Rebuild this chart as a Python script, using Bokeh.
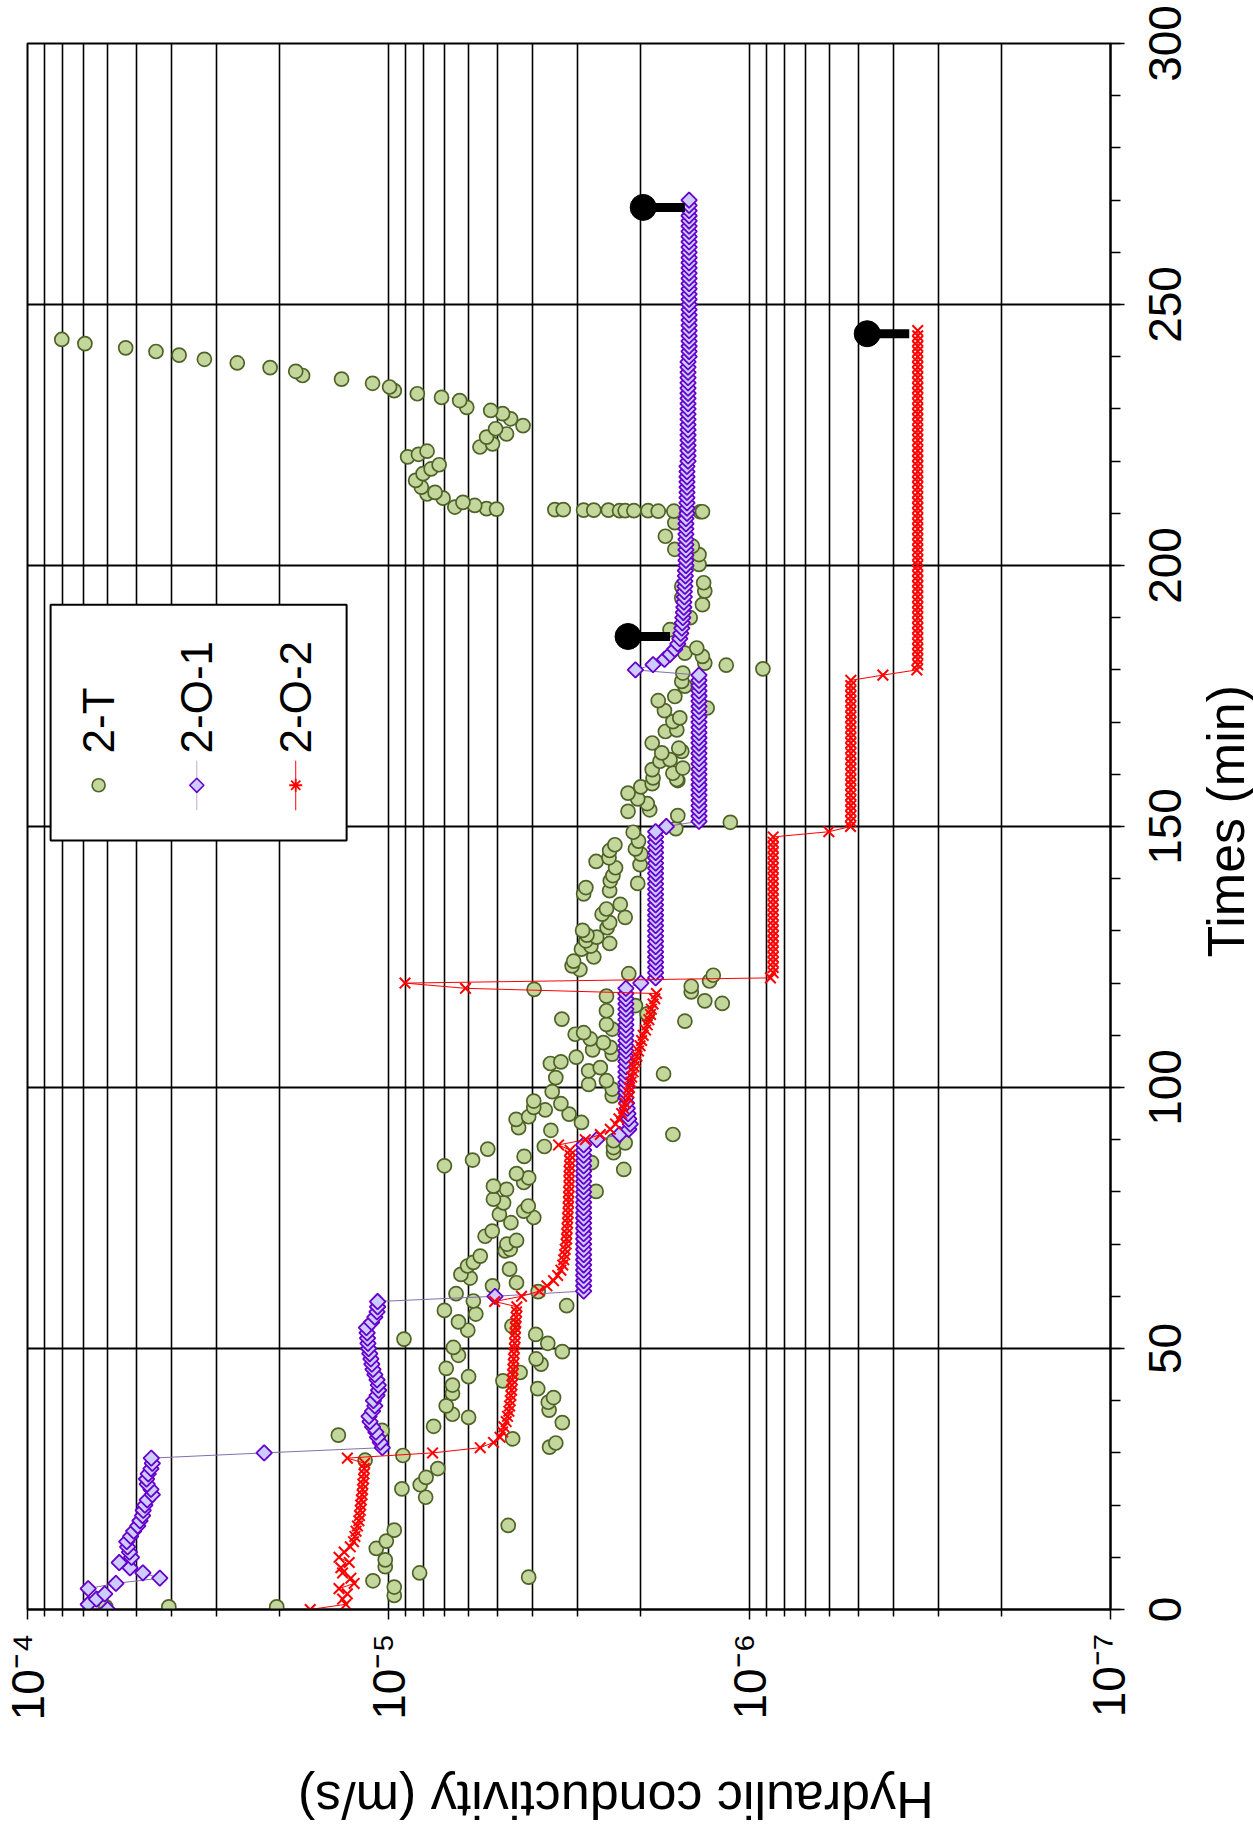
import math
from bokeh.plotting import figure
from bokeh.layouts import row, column
from bokeh.models import ColumnDataSource, FixedTicker, Range1d, CustomJSTickFormatter
from bokeh.embed import file_html
from bokeh.resources import INLINE
from bokeh.core.properties import value

FONT = "Liberation Sans"

# ---------------- data ----------------
# 2-T : time (min) and hydraulic conductivity (x 1e-6 m/s)
t_2T = [0.5, 0.5, 0.5, 2.7, 4.3, 5.5, 6.2, 7.0, 8.2, 9.5, 11.7, 13.1, 15.2, 16.1, 21.5, 23.1, 23.9, 25.3, 27.0, 28.6,
        29.5, 31.1, 31.9, 32.7, 33.4, 34.3, 35.1, 35.8, 36.8, 37.4, 38.2, 39.0, 39.7, 40.6, 41.4, 42.3, 43.0, 43.8, 44.6, 45.4,
        46.2, 47.0, 48.0, 48.7, 49.4, 50.2, 51.0, 51.8, 52.7, 53.5, 54.3, 55.1, 56.6, 57.3, 58.2, 59.1, 60.5, 60.9, 62.0, 62.6,
        63.5, 64.2, 65.2, 65.8, 66.5, 67.7, 68.7, 69.0, 70.0, 70.7, 71.5, 72.5, 74.1, 75.1, 75.7, 76.3, 77.3, 77.9, 78.6, 80.1,
        80.5, 81.1, 81.8, 82.7, 83.5, 84.3, 85.0, 85.6, 86.1, 86.8, 87.5, 88.2, 88.5, 88.7, 89.4, 89.8, 91.0, 91.8, 92.3, 93.3,
        93.9, 94.4, 94.9, 95.7, 96.2, 96.9, 97.4, 98.4, 99.2, 99.7, 100.6, 101.3, 101.9, 102.6, 103.2, 103.8, 104.6, 104.9, 105.8, 106.4,
        107.2, 107.7, 108.6, 109.3, 110.2, 110.5, 111.2, 112.1, 112.7, 113.1, 114.1, 114.7, 115.7, 116.1, 116.6, 117.5, 118.3, 118.8, 119.4, 120.4,
        121.5, 121.8, 122.6, 123.3, 124.2, 125.0, 126.5, 127.1, 127.6, 128.1, 128.8, 129.2, 130.1, 130.6, 131.6, 132.6, 133.2, 134.2, 135.1, 137.1,
        137.7, 138.3, 139.1, 139.6, 140.6, 142.1, 142.7, 143.3, 144.0, 144.7, 145.4, 145.7, 146.5, 147.2, 148.9, 149.6, 150.8, 152.1, 152.9, 153.2,
        154.4, 155.3, 156.4, 157.6, 158.2, 158.8, 159.0, 159.3, 160.2, 160.9, 161.2, 162.5, 162.8, 164.1, 164.4, 165.0, 166.0, 168.2, 168.5, 170.1,
        170.8, 172.2, 172.7, 174.1, 174.9, 176.9, 177.8, 179.4, 180.2, 180.9, 181.3, 182.6, 183.2, 184.2, 187.7, 190.0, 192.5, 193.8, 195.1, 196.0,
        196.7, 200.2, 202.1, 203.1, 203.7, 205.6, 208.2, 210.9, 210.8, 210.7, 210.7, 210.6, 210.6, 210.6, 210.5, 210.5, 210.5, 210.5, 210.4, 210.4,
        210.4, 210.3, 210.3, 211.2, 211.5, 212.1, 212.9, 213.7, 214.0, 215.0, 216.3, 217.6, 218.5, 219.3, 220.8, 221.3, 221.9, 222.7, 223.3, 224.6,
        225.2, 226.2, 226.8, 228.1, 229.1, 229.7, 230.3, 231.6, 232.2, 232.9, 233.5, 234.2, 234.9, 235.7, 236.4, 237.2, 237.9, 238.8, 239.5, 240.3,
        241.0, 241.7, 242.5, 243.3]
k_2T = [60.7, 40.6, 20.4, 9.64, 9.64, 11.04, 4.09, 8.20, 10.21, 10.21, 10.81, 10.14, 9.64, 4.66, 7.89, 9.18, 8.17, 7.87, 7.30, 11.61,
        9.12, 3.58, 3.44, 4.53, 13.77, 10.42, 7.50, 3.30, 6.00, 6.65, 3.59, 6.92, 3.61, 3.49, 6.65, 3.86, 6.65, 4.82, 6.00, 4.32,
        6.92, 3.78, 3.90, 6.40, 3.30, 6.61, 3.62, 9.06, 3.91, 6.03, 4.55, 6.40, 5.73, 7.00, 3.21, 5.82, 6.50, 3.85, 5.15, 4.42,
        5.94, 6.30, 4.62, 6.04, 5.82, 5.57, 4.75, 4.60, 4.70, 4.42, 5.40, 5.16, 4.58, 3.96, 4.93, 4.22, 4.10, 4.80, 5.12, 2.66,
        4.71, 5.12, 4.22, 4.09, 4.42, 2.23, 7.00, 2.74, 5.85, 4.21, 2.38, 5.31, 2.38, 3.70, 2.21, 2.38, 1.63, 3.55, 4.36, 2.92,
        4.43, 4.09, 3.16, 3.68, 3.96, 3.33, 3.96, 2.40, 3.52, 2.40, 2.79, 2.49, 3.44, 1.73, 2.79, 2.59, 3.56, 3.33, 3.02, 2.40,
        2.72, 2.43, 2.54, 2.76, 3.04, 2.88, 2.40, 2.49, 1.51, 3.31, 1.92, 2.49, 2.07, 1.19, 1.33, 2.49, 1.45, 3.95, 1.45, 1.29,
        1.26, 2.16, 2.95, 3.10, 3.07, 2.70, 2.92, 2.75, 2.44, 2.84, 2.65, 2.82, 2.90, 2.48, 2.44, 2.21, 2.56, 2.49, 2.28, 2.88,
        2.44, 2.84, 2.04, 2.43, 2.39, 2.35, 2.01, 2.66, 2.45, 2.00, 2.44, 2.07, 2.36, 2.03, 2.10, 1.60, 1.13, 1.58, 2.17, 1.89,
        1.92, 2.04, 2.17, 2.00, 1.86, 1.58, 1.59, 1.85, 1.63, 1.86, 1.53, 1.77, 1.66, 1.75, 1.54, 1.57, 1.86, 1.71, 1.59, 1.63,
        1.56, 1.72, 1.31, 1.79, 1.61, 1.51, 1.54, 1.53, 0.918, 1.16, 1.33, 1.35, 1.51, 1.40, 1.66, 1.46, 1.35, 1.54, 1.33, 1.54,
        1.34, 1.38, 1.38, 1.61, 1.44, 1.71, 1.61, 5.35, 5.02, 3.46, 3.28, 2.88, 2.70, 2.46, 2.29, 2.21, 2.09, 1.91, 1.79, 1.62,
        1.49, 1.37, 1.35, 6.55, 5.77, 6.22, 7.06, 7.82, 7.43, 8.11, 8.41, 8.02, 7.62, 7.24, 8.85, 8.26, 7.82, 5.58, 5.15, 5.35,
        4.71, 5.05, 4.24, 4.59, 4.83, 5.21, 6.07, 6.35, 7.13, 8.32, 9.64, 9.93, 11.07, 13.49, 17.30, 18.07, 21.28, 26.24, 32.36, 38.02,
        44.06, 53.46, 69.34, 80.35]

# 2-O-1 : one reading per minute, K in 1e-6 m/s
t_2O1 = list(range(0, 271))
k_2O1 = [60.0, 67.9, 64.4, 61.1, 67.9, 56.9, 43.0, 47.9, 52.0, 55.7,
         51.5, 52.2, 52.8, 53.1, 51.8, 50.8, 49.5, 48.8, 48.0, 47.8,
         47.3, 46.6, 45.1, 45.5, 46.6, 46.8, 46.3, 45.5, 45.1, 45.4,
         22.1, 10.40, 10.54, 10.72, 10.84, 11.07, 11.25, 11.32, 11.07, 10.91,
         11.01, 10.76, 10.65, 10.67, 10.76, 10.91, 11.04, 11.12, 11.19, 11.27,
         11.35, 11.40, 11.43, 11.46, 11.51, 11.14, 10.91, 10.76, 10.72, 10.72,
         5.07, 2.88, 2.88, 2.88, 2.88, 2.88, 2.88, 2.88, 2.88, 2.88,
         2.88, 2.88, 2.88, 2.88, 2.88, 2.88, 2.88, 2.88, 2.88, 2.88,
         2.88, 2.88, 2.88, 2.88, 2.88, 2.88, 2.88, 2.88, 2.88, 2.88,
         2.65, 2.29, 2.16, 2.14, 2.16, 2.17, 2.18, 2.19, 2.20, 2.20,
         2.20, 2.20, 2.20, 2.20, 2.20, 2.20, 2.20, 2.20, 2.20, 2.20,
         2.20, 2.20, 2.20, 2.20, 2.20, 2.20, 2.20, 2.20, 2.20, 2.20,
         2.00, 1.82, 1.82, 1.82, 1.82, 1.82, 1.82, 1.82, 1.82, 1.82,
         1.82, 1.82, 1.82, 1.82, 1.82, 1.82, 1.82, 1.82, 1.82, 1.82,
         1.82, 1.82, 1.82, 1.82, 1.82, 1.82, 1.82, 1.82, 1.82, 1.82,
         1.70, 1.38, 1.38, 1.38, 1.38, 1.38, 1.38, 1.38, 1.38, 1.38,
         1.38, 1.38, 1.38, 1.38, 1.38, 1.38, 1.38, 1.38, 1.38, 1.38,
         1.38, 1.38, 1.38, 1.38, 1.38, 1.38, 1.38, 1.38, 1.38, 1.38,
         2.07, 1.85, 1.72, 1.66, 1.61, 1.58, 1.56, 1.55, 1.54, 1.535,
         1.53, 1.525, 1.52, 1.52, 1.515, 1.515, 1.51, 1.51, 1.505, 1.505,
         1.50, 1.50, 1.50, 1.50, 1.50, 1.50, 1.50, 1.50, 1.50, 1.50,
         1.49, 1.49, 1.49, 1.49, 1.49, 1.49, 1.49, 1.49, 1.49, 1.49,
         1.48, 1.48, 1.48, 1.48, 1.48, 1.48, 1.48, 1.48, 1.48, 1.48,
         1.48, 1.48, 1.48, 1.48, 1.48, 1.48, 1.48, 1.48, 1.48, 1.48,
         1.47, 1.47, 1.47, 1.47, 1.47, 1.47, 1.47, 1.47, 1.47, 1.47,
         1.47, 1.47, 1.47, 1.47, 1.47, 1.47, 1.47, 1.47, 1.47, 1.47,
         1.47, 1.47, 1.47, 1.47, 1.47, 1.47, 1.47, 1.47, 1.47, 1.47,
         1.47]

# 2-O-2 : one reading per minute, K in 1e-6 m/s
t_2O2 = list(range(0, 246))
k_2O2 = [16.48, 13.12, 13.40, 13.00, 13.71, 12.45, 12.71, 13.40, 13.55, 12.85,
         13.71, 13.27, 12.76, 12.50, 12.39, 12.30, 12.19, 12.08, 12.03, 11.97,
         11.94, 11.89, 11.83, 11.80, 11.78, 11.72, 11.69, 11.67, 11.64, 13.00,
         7.55, 5.57, 5.12, 4.91, 4.83, 4.79, 4.72, 4.68, 4.64, 4.62,
         4.60, 4.58, 4.56, 4.55, 4.54, 4.53, 4.52, 4.51, 4.50, 4.49,
         4.48, 4.47, 4.46, 4.46, 4.45, 4.44, 4.43, 4.42, 4.41, 5.08,
         4.28, 3.82, 3.64, 3.49, 3.40, 3.33, 3.29, 3.27, 3.25, 3.24,
         3.22, 3.21, 3.21, 3.20, 3.19, 3.19, 3.18, 3.18, 3.17, 3.17,
         3.17, 3.16, 3.16, 3.16, 3.16, 3.15, 3.15, 3.14, 3.14, 3.38,
         2.85, 2.59, 2.43, 2.35, 2.30, 2.26, 2.23, 2.21, 2.17, 2.16,
         2.15, 2.13, 2.12, 2.10, 2.09, 2.07, 2.05, 2.03, 2.01, 1.99,
         1.97, 1.94, 1.92, 1.90, 1.88, 1.87, 1.85, 1.83, 1.81, 6.12,
         9.00, 0.875, 0.86, 0.86, 0.86, 0.86, 0.86, 0.86, 0.86, 0.86,
         0.86, 0.86, 0.86, 0.86, 0.86, 0.86, 0.86, 0.86, 0.86, 0.86,
         0.86, 0.86, 0.86, 0.86, 0.86, 0.86, 0.86, 0.86, 0.86, 0.603,
         0.525, 0.524, 0.524, 0.524, 0.524, 0.524, 0.524, 0.524, 0.524, 0.524,
         0.524, 0.524, 0.524, 0.524, 0.524, 0.524, 0.524, 0.524, 0.524, 0.524,
         0.524, 0.524, 0.524, 0.524, 0.524, 0.524, 0.524, 0.524, 0.524, 0.427,
         0.344, 0.342, 0.342, 0.342, 0.342, 0.342, 0.342, 0.342, 0.342, 0.342,
         0.342, 0.342, 0.342, 0.342, 0.342, 0.342, 0.342, 0.342, 0.342, 0.342,
         0.342, 0.342, 0.342, 0.342, 0.342, 0.342, 0.342, 0.342, 0.342, 0.342,
         0.342, 0.342, 0.342, 0.342, 0.342, 0.342, 0.342, 0.342, 0.342, 0.342,
         0.342, 0.342, 0.342, 0.342, 0.342, 0.342, 0.342, 0.342, 0.342, 0.342,
         0.342, 0.342, 0.342, 0.342, 0.342, 0.342, 0.342, 0.342, 0.342, 0.342,
         0.342, 0.342, 0.342, 0.342, 0.342, 0.342]

# black end-point markers (time, K at dot, K at bar end), K in 1e-6 m/s
t_mark = [186.4, 244.4, 268.6]
k_mark = [2.17, 0.472, 1.97]
k_mark_bar = [1.66, 0.361, 1.51]

x_ticks = [1e-7, 1e-6, 1e-5, 1e-4]
y_ticks = [0, 50, 100, 150, 200, 250, 300]
y_tick_labels = ["0", "50", "100", "150", "200", "250", "300"]
y_minor = [0, 10, 20, 30, 40, 50, 60, 70, 80, 90, 100, 110, 120, 130, 140, 150, 160, 170, 180, 190,
           200, 210, 220, 230, 240, 250, 260, 270, 280, 290, 300]
x_minor = [m * d for d in (1e-7, 1e-6, 1e-5) for m in (2, 3, 4, 5, 6, 7, 8, 9)]

series_names = ["2-T", "2-O-1", "2-O-2"]
x_title = "Hydraulic conductivity (m/s)"
y_title = "Times (min)"

E6 = 1e-6
src_T = ColumnDataSource(dict(t=t_2T, k=[v * E6 for v in k_2T]))
src_O1 = ColumnDataSource(dict(t=t_2O1, k=[v * E6 for v in k_2O1]))
src_O2 = ColumnDataSource(dict(t=t_2O2, k=[v * E6 for v in k_2O2]))
src_M = ColumnDataSource(dict(t=t_mark, k=[v * E6 for v in k_mark], kb=[v * E6 for v in k_mark_bar]))

# ---------------- layout geometry (pixels) ----------------
W, H = 1253, 1838
MAIN_W, MAIN_H = 1134, 1758
B_LEFT, B_RIGHT, B_TOP, B_BOTTOM = 27, 24, 43, 149
FRAME_BOTTOM = B_TOP + (MAIN_H - B_TOP - B_BOTTOM)   # 1609
PX_PER_MIN = (MAIN_H - B_TOP - B_BOTTOM) / 300.0

# ---------------- main figure ----------------
p = figure(x_axis_type="log", x_range=Range1d(1e-4, 1e-7), y_range=Range1d(0, 300),
           width=MAIN_W, height=MAIN_H,
           min_border_left=B_LEFT, min_border_top=B_TOP, min_border_right=B_RIGHT, min_border_bottom=B_BOTTOM,
           y_axis_location="right", output_backend="svg", toolbar_location=None,
           background_fill_color="white", border_fill_color="white")
p.outline_line_color = "black"
p.outline_line_width = 2

xa = p.xaxis[0]
xa.ticker = FixedTicker(ticks=x_ticks, minor_ticks=x_minor)
xa.formatter = CustomJSTickFormatter(code="""
const e = Math.round(Math.log10(tick));
const sup = {'-':'\u207b','0':'\u2070','1':'\u00b9','2':'\u00b2','3':'\u00b3','4':'\u2074','5':'\u2075','6':'\u2076','7':'\u2077','8':'\u2078','9':'\u2079'};
return '10' + String(e).split('').map(c => sup[c]).join('');
""")
xa.major_label_orientation = math.pi / 2
xa.major_label_text_font = FONT
xa.major_label_text_font_size = "46px"
xa.major_label_text_color = "black"
xa.major_label_standoff = 14
xa.axis_line_color = "black"
xa.axis_line_width = 2
xa.major_tick_in = 0
xa.major_tick_out = 10
xa.minor_tick_in = 0
xa.minor_tick_out = 7
xa.major_tick_line_width = 1.5
xa.minor_tick_line_width = 1.5
xa.major_tick_line_color = "black"
xa.minor_tick_line_color = "black"

ya = p.yaxis[0]
ya.ticker = FixedTicker(ticks=y_ticks, minor_ticks=y_minor)
ya.formatter = CustomJSTickFormatter(code="return '';")
ya.major_label_standoff = 0
ya.major_label_text_font_size = "1px"
ya.axis_line_color = "black"
ya.axis_line_width = 2
ya.major_tick_in = 0
ya.major_tick_out = 14
ya.minor_tick_in = 0
ya.minor_tick_out = 10
ya.major_tick_line_width = 1.5
ya.minor_tick_line_width = 1.5
ya.major_tick_line_color = "black"
ya.minor_tick_line_color = "black"

p.xgrid.ticker = FixedTicker(ticks=x_ticks, minor_ticks=x_minor)
p.xgrid.grid_line_color = "black"
p.xgrid.grid_line_width = 1.6
p.xgrid.minor_grid_line_color = "black"
p.xgrid.minor_grid_line_width = 1.6
p.ygrid.ticker = FixedTicker(ticks=y_ticks)
p.ygrid.grid_line_color = "black"
p.ygrid.grid_line_width = 2

GREEN_FILL = "#c3d69b"
GREEN_LINE = "#4f6228"
PURPLE_FILL = "#ccccff"
PURPLE_LINE = "#6600cc"
PURPLE_CONN = "#8070a8"
RED = "#ff0000"

# 2-T
p.scatter("k", "t", source=src_T, marker="circle", size=14,
          fill_color=GREEN_FILL, line_color=GREEN_LINE, line_width=1.7)
# 2-O-1
p.line("k", "t", source=src_O1, line_color=PURPLE_CONN, line_width=1)
p.scatter("k", "t", source=src_O1, marker="square", angle=math.pi / 4, size=11,
          fill_color=PURPLE_FILL, line_color=PURPLE_LINE, line_width=1.8)
# 2-O-2
p.line("k", "t", source=src_O2, line_color=RED, line_width=1)
p.scatter("k", "t", source=src_O2, marker="x", size=15, line_color=RED, line_width=2)
# black end markers
p.segment(x0="k", y0="t", x1="kb", y1="t", source=src_M, line_color="black", line_width=9)
p.scatter("k", "t", source=src_M, marker="circle", size=26, fill_color="black", line_color="black")

# ---------------- custom rotated legend ----------------
LEG_LEFT, LEG_RIGHT = 10 ** -4.064, 10 ** -4.884
LEG_TOP, LEG_BOTTOM = 192.5, 147.3
leg_x = [10 ** -4.197, 10 ** -4.469, 10 ** -4.743]
leg_marker_t = 157.9
leg_text_t = 164.0
p.quad(left=[LEG_LEFT], right=[LEG_RIGHT], top=[LEG_TOP], bottom=[LEG_BOTTOM],
       fill_color="white", line_color="black", line_width=2)
p.segment(x0=leg_x[1:], y0=[153.1, 153.1], x1=leg_x[1:], y1=[162.6, 162.6],
          line_color=["#b8acd8", RED], line_width=1)
p.scatter([leg_x[0]], [leg_marker_t], marker="circle", size=13,
          fill_color=GREEN_FILL, line_color=GREEN_LINE, line_width=1.6)
p.scatter([leg_x[1]], [leg_marker_t], marker="square", angle=math.pi / 4, size=10,
          fill_color=PURPLE_FILL, line_color=PURPLE_LINE, line_width=1.6)
p.scatter([leg_x[2]], [leg_marker_t], marker="asterisk", size=13, line_color=RED, line_width=1.8)
p.text(x=leg_x, y=[leg_text_t] * 3, text=series_names, angle=math.pi / 2,
       text_align="left", text_baseline="middle", text_font=value(FONT),
       text_font_size="44px", text_color="black")

# ---------------- bottom strip: conductivity title (upside down) ----------------
pb = figure(width=MAIN_W, height=H - MAIN_H, x_range=Range1d(0, MAIN_W), y_range=Range1d(H, MAIN_H),
            min_border=0, x_axis_location=None, y_axis_location=None,
            output_backend="svg", toolbar_location=None,
            background_fill_color="white", border_fill_color="white")
pb.outline_line_color = None
pb.grid.visible = False
pb.text(x=[616], y=[1799], text=[x_title], angle=math.pi,
        text_align="center", text_baseline="middle", text_font=value(FONT),
        text_font_size="52px", text_color="black")

# ---------------- right strip: rotated time tick labels and time title ----------------
# full page height; its vertical range is the main time scale extended over the strip
strip_t_top = FRAME_BOTTOM / PX_PER_MIN
strip_t_bottom = (FRAME_BOTTOM - H) / PX_PER_MIN
pr = figure(width=W - MAIN_W, height=H, x_range=Range1d(MAIN_W, W),
            y_range=Range1d(strip_t_bottom, strip_t_top),
            min_border=0, x_axis_location=None, y_axis_location=None,
            output_backend="svg", toolbar_location=None,
            background_fill_color="white", border_fill_color="white")
pr.outline_line_color = None
pr.grid.visible = False
pr.text(x=[1164.5] * len(y_ticks), y=y_ticks, text=y_tick_labels, angle=math.pi / 2,
        text_align="center", text_baseline="middle", text_font=value(FONT),
        text_font_size="46px", text_color="black")
pr.text(x=[1225], y=[151.0], text=[y_title], angle=math.pi / 2,
        text_align="center", text_baseline="middle", text_font=value(FONT),
        text_font_size="52px", text_color="black")

layout = row(column(p, pb, spacing=0), pr, spacing=0)
open("out.html", "w").write(file_html(layout, INLINE))
